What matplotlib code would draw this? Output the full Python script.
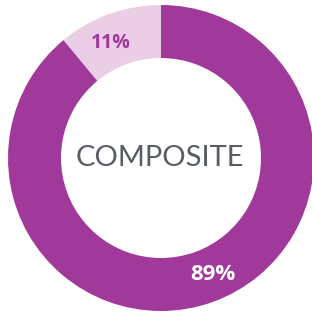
import matplotlib.pyplot as plt

# share of composite
labels = ["11%", "89%"]
values = [11, 89]
colors = ["#EBCDE5", "#A1399A"]
center_label = "COMPOSITE"

fig = plt.figure(figsize=(3.12, 3.16), dpi=100)
ax = fig.add_axes([0, 0, 1, 1])
ax.pie(values, colors=colors, startangle=90, counterclock=True,
       radius=153, center=(161, 158),
       wedgeprops=dict(width=53, linewidth=0))
ax.set_xlim(0, 312)
ax.set_ylim(0, 316)
ax.set_aspect("equal")
ax.axis("off")

ax.text(160, 158, center_label, ha="center", va="center", fontsize=21,
        family="Lato", fontweight="normal", color="#585D66")
ax.text(111, 273, labels[0], ha="center", va="center", fontsize=14,
        family="Open Sans", fontweight="bold", color="#A1399A")
ax.text(213, 41, labels[1], ha="center", va="center", fontsize=16,
        family="Open Sans", fontweight="bold", color="white")

fig.savefig("out.png", dpi=100)
